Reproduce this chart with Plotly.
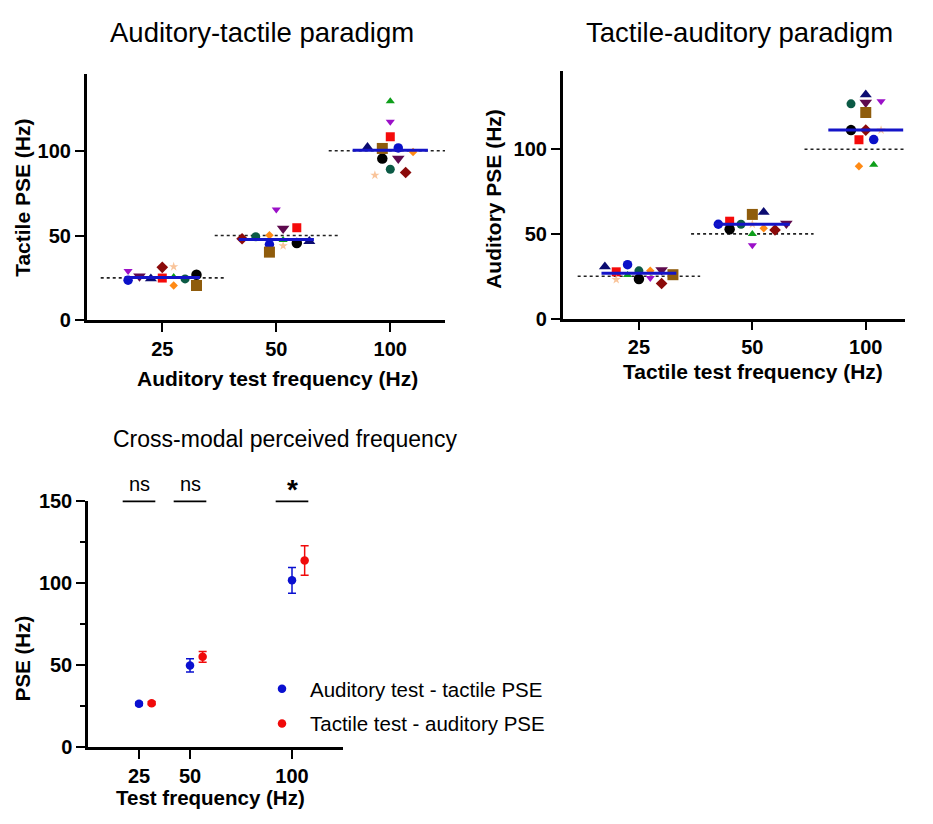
import numpy as np
import plotly.graph_objects as go

W, H = 933, 824
FONT = "Liberation Sans"

# ---------------- data ----------------
FREQS = [25, 50, 100]
FREQ_LABELS = ["25", "50", "100"]
PARTICIPANTS = ["P1", "P2", "P3", "P4", "P5", "P6", "P7", "P8", "P9", "P10", "P11", "P12"]

# Auditory-tactile paradigm: tactile PSE (Hz) for each auditory test frequency
AT_PSE_25 = [23.6, 24.5, 29.0, 25.9, 31.2, 24.9, 31.6, 25.5, 24.4, 20.5, 26.8, 20.5]
AT_PSE_50 = [44.7, 46.6, 65.3, 54.2, 48.1, 54.6, 43.9, 47.3, 49.3, 50.2, 45.6, 40.2]
AT_PSE_100 = [101.7, 102.1, 117.1, 95.4, 87.2, 108.3, 85.6, 129.3, 89.1, 99.3, 95.4, 101.4]

# Tactile-auditory paradigm: auditory PSE (Hz) for each tactile test frequency
TA_PSE_25 = [31.8, 30.6, 24.0, 28.7, 20.7, 27.6, 23.0, 25.7, 28.2, 28.3, 23.4, 25.9]
TA_PSE_50 = [55.7, 62.8, 43.3, 56.1, 52.3, 57.5, 55.7, 50.0, 55.7, 53.3, 52.7, 61.5]
TA_PSE_100 = [105.7, 132.2, 128.3, 127.6, 111.3, 105.6, 111.3, 90.8, 126.8, 90.0, 111.3, 121.7]

# Summary (mean and error) of cross-modal perceived frequency
AT_MEAN = [26.2, 49.6, 101.4]
AT_ERR = [1.0, 4.0, 7.9]
TA_MEAN = [26.5, 54.8, 113.5]
TA_ERR = [0.9, 3.3, 9.0]
SIG_LABELS = ["ns", "ns", "*"]

SERIES_NAMES = ["Auditory test - tactile PSE", "Tactile test - auditory PSE"]

# ---------------- styles ----------------
SYMBOLS = ["circle", "triangle-up", "triangle-down", "triangle-down", "diamond", "square",
           "star", "triangle-up", "circle", "diamond", "circle", "square"]
COLORS = ["#0A10C8", "#0B0B70", "#9B10C8", "#5E0A4E", "#8B0A0A", "#F50A0A",
          "#F9C49A", "#0E9E1A", "#0B5A45", "#FF8A14", "#000000", "#8F5C0C"]
SIZES = [9.5, 10.5, 8, 11, 9, 9, 7, 8, 9, 6.5, 10.5, 11]

# horizontal scatter spread (fraction of category spacing) inside each column
SPREAD_AT = [
    [-0.30, -0.10, -0.30, -0.20, 0.00, 0.00, 0.10, 0.10, 0.20, 0.10, 0.30, 0.30],
    [-0.06, 0.29, 0.00, 0.06, -0.30, 0.18, 0.06, 0.06, -0.18, -0.06, 0.18, -0.06],
    [0.07, -0.20, 0.00, 0.07, 0.135, 0.00, -0.135, 0.00, 0.00, 0.20, -0.07, -0.07],
]
SPREAD_TA = [
    [-0.10, -0.30, 0.10, 0.20, 0.20, -0.20, -0.20, -0.10, 0.00, 0.10, 0.00, 0.30],
    [-0.30, 0.10, 0.00, 0.30, 0.20, -0.20, 0.00, 0.00, -0.10, 0.10, -0.20, 0.00],
    [0.07, 0.00, 0.135, 0.00, 0.00, -0.06, 0.135, 0.07, -0.13, -0.06, -0.13, 0.00],
]
MEDIAN_HALF = 0.33
REF_HALF = 0.54
SUMMARY_DODGE = 6.2
SIG_HALF = 8.0
BLUE = "#0A10D0"
RED = "#F00A0A"
MEDIAN_COLOR = "#1414C8"


def px(x):
    return x / W


def py(y):
    return 1 - y / H


fig = go.Figure()

panels = [
    ("x", "y", [AT_PSE_25, AT_PSE_50, AT_PSE_100], SPREAD_AT),
    ("x2", "y2", [TA_PSE_25, TA_PSE_50, TA_PSE_100], SPREAD_TA),
]

for xa, ya, groups, spread in panels:
    # reference (test frequency) dashed lines
    for k, f in enumerate(FREQS):
        fig.add_trace(go.Scatter(
            x=[k + 1 - REF_HALF, k + 1 + REF_HALF], y=[f, f], mode="lines",
            line=dict(color="#222222", width=1.6, dash="3px,3px"),
            xaxis=xa, yaxis=ya, showlegend=False, hoverinfo="skip"))
    # participants
    for i, name in enumerate(PARTICIPANTS):
        fig.add_trace(go.Scatter(
            x=[k + 1 + spread[k][i] for k in range(len(FREQS))],
            y=[groups[k][i] for k in range(len(FREQS))],
            mode="markers", name=name,
            marker=dict(symbol=SYMBOLS[i], color=COLORS[i], size=SIZES[i], line=dict(width=0)),
            xaxis=xa, yaxis=ya, showlegend=False, cliponaxis=False))
    # median lines
    for k, vals in enumerate(groups):
        m = float(np.median(vals))
        fig.add_trace(go.Scatter(
            x=[k + 1 - MEDIAN_HALF, k + 1 + MEDIAN_HALF], y=[m, m], mode="lines",
            line=dict(color=MEDIAN_COLOR, width=3),
            xaxis=xa, yaxis=ya, showlegend=False, hoverinfo="skip"))

# bottom summary panel
fig.add_trace(go.Scatter(
    x=FREQS, y=AT_MEAN, mode="markers", name=SERIES_NAMES[0],
    marker=dict(color=BLUE, size=8.5),
    error_y=dict(type="data", array=AT_ERR, color=BLUE, thickness=1.5, width=4),
    xaxis="x3", yaxis="y3", legendgroup="a", cliponaxis=False))
fig.add_trace(go.Scatter(
    x=[f + SUMMARY_DODGE for f in FREQS], y=TA_MEAN, mode="markers", name=SERIES_NAMES[1],
    marker=dict(color=RED, size=8.5),
    error_y=dict(type="data", array=TA_ERR, color=RED, thickness=1.5, width=4),
    xaxis="x3", yaxis="y3", legendgroup="b", cliponaxis=False))

axis_common = dict(showline=True, linecolor="black", linewidth=2.5, ticks="outside",
                   ticklen=9, tickwidth=2, tickcolor="black", showgrid=False, zeroline=False,
                   tickfont=dict(family=FONT, size=20, color="black", weight="bold"))

fig.update_layout(
    width=W, height=H, margin=dict(l=0, r=0, t=0, b=0),
    plot_bgcolor="white", paper_bgcolor="white",
    font=dict(family=FONT, color="black"),
    xaxis=dict(domain=[px(86.7), px(445)], range=[0.337, 3.48], tickvals=[1, 2, 3],
               ticktext=FREQ_LABELS, anchor="y", **axis_common),
    yaxis=dict(domain=[py(317.7), py(65)], range=[0, 145.2], tickvals=[0, 50, 100],
               anchor="x", **axis_common),
    xaxis2=dict(domain=[px(562.7), px(905)], range=[0.328, 3.346], tickvals=[1, 2, 3],
                ticktext=FREQ_LABELS, anchor="y2", **axis_common),
    yaxis2=dict(domain=[py(316), py(62)], range=[0, 146], tickvals=[0, 50, 100],
                anchor="x2", **axis_common),
    xaxis3=dict(domain=[px(88), px(343)], range=[0, 125], tickvals=FREQS,
                ticktext=FREQ_LABELS, anchor="y3", **axis_common),
    yaxis3=dict(domain=[py(756), py(503)], range=[0, 150], tickvals=[0, 50, 100, 150],
                anchor="x3",
                minor=dict(tickvals=[25, 75, 125], ticks="outside", ticklen=5, tickwidth=2,
                           tickcolor="black", showgrid=False),
                **axis_common),
    legend=dict(x=px(254), y=py(676), xanchor="left", yanchor="top",
                font=dict(family=FONT, size=20.5, color="black"),
                itemwidth=46, tracegroupgap=5, bgcolor="rgba(0,0,0,0)", borderwidth=0),
    showlegend=True,
)

# significance bars
for k, f in enumerate(FREQS):
    fig.add_shape(type="line", xref="x3", yref="y3", x0=f - SIG_HALF, x1=f + SIG_HALF,
                  y0=150, y1=150, line=dict(color="black", width=3.5))
    lab = SIG_LABELS[k]
    star = lab == "*"
    fig.add_annotation(x=f, y=150, xref="x3", yref="y3", text=lab, showarrow=False,
                       yanchor="bottom", yshift=-6 if star else 4,
                       font=dict(family=FONT, size=28 if star else 20, color="black",
                                 weight="bold" if star else "normal"))

texts = [
    ("Auditory-tactile paradigm", 262, 22, 27.5, "normal", 0),
    ("Tactile-auditory paradigm", 739, 22, 27.5, "normal", 0),
    ("Cross-modal perceived frequency", 285, 440, 23, "normal", 0),
    ("Tactile PSE (Hz)", 23, 192, 21, "bold", -90),
    ("Auditory test frequency (Hz)", 277, 378, 21, "bold", 0),
    ("Auditory PSE (Hz)", 494, 193, 21, "bold", -90),
    ("Tactile test frequency (Hz)", 753, 370, 21, "bold", 0),
    ("PSE (Hz)", 22, 666, 20.5, "bold", -90),
    ("Test frequency (Hz)", 210, 808, 20.5, "bold", 0),
]
for t, x, y, s, wgt, ang in texts:
    fig.add_annotation(x=px(x), y=py(y), xref="paper", yref="paper", text=t, showarrow=False,
                       xanchor="center", yanchor="middle", textangle=ang,
                       font=dict(family=FONT, size=s, color="black", weight=wgt))

fig.write_html("out.html", config={"displayModeBar": False},
               post_script="document.body.style.margin='0px';")
